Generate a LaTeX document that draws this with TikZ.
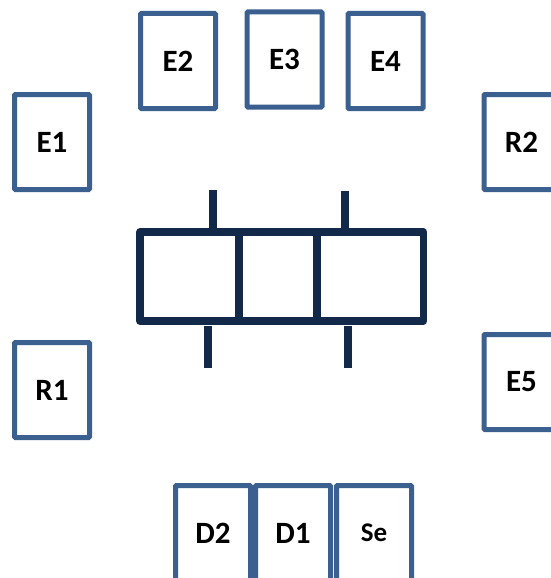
\documentclass[tikz,border=0pt]{standalone}
\usepackage{fontspec}
\setmainfont{Carlito}
\definecolor{boxblue}{HTML}{3B5F8E}
\definecolor{darkblue}{HTML}{12294A}
\tikzset{
  labelbox/.style={draw=boxblue,line width=5pt,rounded corners=1pt,fill=white,inner sep=0pt,
    minimum width=75pt,minimum height=95pt,text=black,font=\fontsize{31}{31}\selectfont\bfseries},
  cell/.style={draw=darkblue,line width=7.5pt,line join=round,inner sep=0pt,minimum height=89pt},
  tick/.style={draw=darkblue,line width=8pt}
}
\begin{document}
\begin{tikzpicture}[x=1pt,y=-1pt]
\useasboundingbox (0,0) rectangle (551,578);
\clip (0,0) rectangle (551,578);
\node[labelbox] (E1) at (52,142) {E1};
\node[labelbox] (E2) at (178,61) {E2};
\node[labelbox] (E3) at (284.5,59.5) {E3};
\node[labelbox] (E4) at (385.5,61) {E4};
\node[labelbox] (R2) at (521.5,142) {R2};
\node[labelbox] (R1) at (52,390) {R1};
\node[labelbox] (E5) at (521.5,382) {E5};
\node[labelbox] (D2) at (213,533) {D2};
\node[labelbox] (D1) at (293,533) {D1};
\node[labelbox,font=\fontsize{27}{27}\selectfont\bfseries] (Se) at (374,533) {Se};
\node[cell,minimum width=99pt] (c1) at (189.5,276.5) {};
\node[cell,minimum width=78pt] (c2) at (278,276.5) {};
\node[cell,minimum width=106.5pt] (c3) at (370.25,276.5) {};
\coordinate (t1) at (213,190);
\coordinate (t2) at (345,191);
\coordinate (b1) at (208,368);
\coordinate (b2) at (348,368);
\coordinate (b1s) at (208,326);
\coordinate (b2s) at (348,326);
\draw[tick] (t1) -- (t1 |- c1.north);
\draw[tick] (t2) -- (t2 |- c3.north);
\draw[tick] (b1) -- (b1s);
\draw[tick] (b2) -- (b2s);
\end{tikzpicture}
\end{document}
